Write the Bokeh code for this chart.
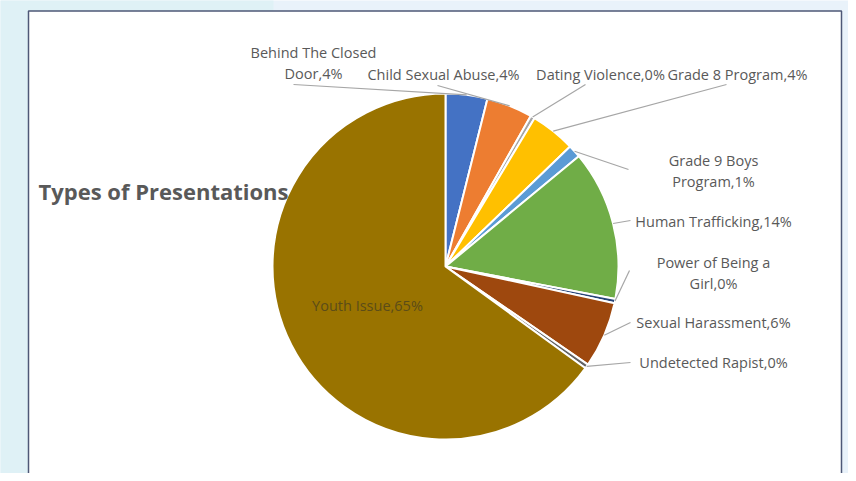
import math
from bokeh.plotting import figure
from bokeh.models import Range1d, ColumnDataSource
from bokeh.core.properties import value
from bokeh.embed import file_html
from bokeh.resources import INLINE

# ---- data ----
categories = ["Behind The Closed Door", "Child Sexual Abuse", "Dating Violence",
              "Grade 8 Program", "Grade 9 Boys Program", "Human Trafficking",
              "Power of Being a Girl", "Sexual Harassment", "Undetected Rapist",
              "Youth Issue"]
shares = [3.9, 4.3, 0.4, 4.2, 1.2, 14.0, 0.4, 6.2, 0.4, 65.0]
pct_labels = ["4%", "4%", "0%", "4%", "1%", "14%", "0%", "6%", "0%", "65%"]
colors = ["#4472C4", "#ED7D31", "#A5A5A5", "#FFC000", "#5B9BD5", "#70AD47",
          "#264478", "#9E480E", "#636363", "#997300"]
title_text = "Types of Presentations"

# ---- layout (reference pixel coordinates, y measured from top) ----
W, H = 848, 473
def Y(y):
    return 481 - y

CX, CY, R = 445, 266, 173
label_layout = {
    # category: (lines, center x, first-line y, leader end x, leader end y)
    "Behind The Closed Door": (["Behind The Closed", "Door,4%"], 313, 52, 293, 84),
    "Child Sexual Abuse": (["Child Sexual Abuse,4%"], 443, 74, 437, 85),
    "Dating Violence": (["Dating Violence,0%"], 600, 74, 585, 84),
    "Grade 8 Program": (["Grade 8 Program,4%"], 737, 74, 726, 84),
    "Grade 9 Boys Program": (["Grade 9 Boys", "Program,1%"], 713, 160, 628, 169),
    "Human Trafficking": (["Human Trafficking,14%"], 713, 221, 630, 220),
    "Power of Being a Girl": (["Power of Being a", "Girl,0%"], 713, 262, 629, 270),
    "Sexual Harassment": (["Sexual Harassment,6%"], 713, 322, 630, 322),
    "Undetected Rapist": (["Undetected Rapist,0%"], 713, 362, 630, 362),
}
LINE_GAP = 21
LABEL_SIZE = "14.5px"

p = figure(width=W, height=H, output_backend="svg", toolbar_location=None,
           x_range=Range1d(0, W), y_range=Range1d(Y(H), Y(0)),
           min_border=0, outline_line_color=None)
p.axis.visible = False
p.grid.visible = False
p.background_fill_color = "#E9F2FA"
p.border_fill_color = "#E9F2FA"

# slide backgrounds
p.quad(left=[-5], right=[273], bottom=[Y(495)], top=[Y(-5)], fill_color="#DFF1F6", line_color=None)
p.quad(left=[28], right=[841], bottom=[Y(495)], top=[Y(10.5)], fill_color="white",
       line_color="#4E5877", line_width=1.5)

# pie
total = sum(shares)
starts, ends, mids = [], [], []
cum = 0.0
for s in shares:
    a0 = math.pi / 2 - 2 * math.pi * cum / total
    cum += s
    a1 = math.pi / 2 - 2 * math.pi * cum / total
    starts.append(a0)
    ends.append(a1)
    mids.append((a0 + a1) / 2)

src = ColumnDataSource(dict(start=starts, end=ends, color=colors,
                            x=[CX] * len(shares), y=[Y(CY)] * len(shares)))
p.wedge(x="x", y="y", radius=R, start_angle="start", end_angle="end",
        direction="clock", fill_color="color", line_color="white", line_width=2,
        source=src)

# title
p.text(x=[38], y=[Y(190)], text=[title_text], text_font=value("Open Sans"),
       text_font_size="22px", text_font_style="bold", text_color="#595959",
       text_baseline="middle", text_align="left")

# leader lines and labels
for i, cat in enumerate(categories):
    if cat not in label_layout:
        continue
    lines, lx, ly, ex, ey = label_layout[cat]
    mx = CX + R * math.cos(mids[i])
    my = Y(CY) + R * math.sin(mids[i])
    p.line(x=[mx, ex], y=[my, Y(ey)], line_color="#A6A6A6", line_width=1.2)
    for k, t in enumerate(lines):
        p.text(x=[lx], y=[Y(ly + k * LINE_GAP)], text=[t],
               text_font=value("Open Sans"), text_font_size=LABEL_SIZE,
               text_color="#595959", text_baseline="middle", text_align="center")

# inside label for the big slice
yi = categories.index("Youth Issue")
p.text(x=[367], y=[Y(305)], text=[categories[yi] + "," + pct_labels[yi]],
       text_font=value("Open Sans"), text_font_size=LABEL_SIZE, text_color="#5B4C18",
       text_baseline="middle", text_align="center")

open("out.html", "w").write(file_html(p, INLINE))
